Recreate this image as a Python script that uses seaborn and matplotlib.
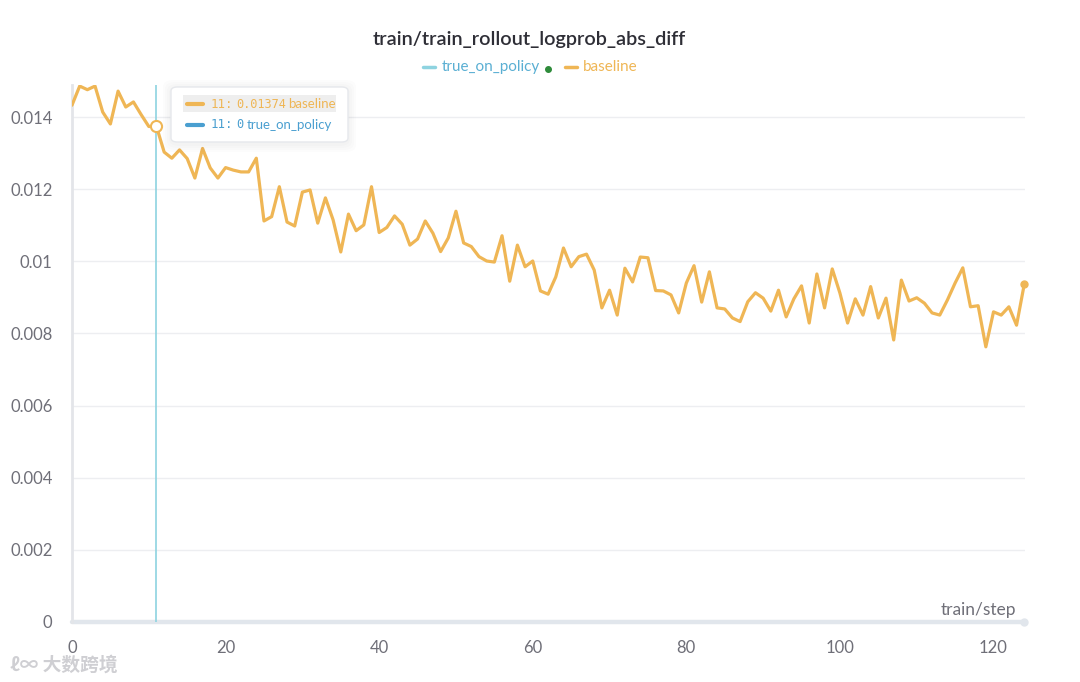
import numpy as np
import pandas as pd
import matplotlib.pyplot as plt
from matplotlib.patches import FancyBboxPatch
import seaborn as sns

# values
steps = list(range(125))
baseline = [
    0.01433, 0.01486, 0.01476, 0.01486, 0.01414, 0.01381, 0.01472, 0.01428, 0.01442, 0.01407,
    0.01374, 0.01374, 0.01303, 0.01286, 0.01309, 0.01285, 0.01231, 0.01313, 0.01259, 0.01231,
    0.01260, 0.01253, 0.01248, 0.01248, 0.01286, 0.01112, 0.01124, 0.01207, 0.01109, 0.01098,
    0.01192, 0.01198, 0.01106, 0.01176, 0.01115, 0.01026, 0.01131, 0.01085, 0.01101, 0.01207,
    0.01080, 0.01094, 0.01126, 0.01103, 0.01045, 0.01062, 0.01112, 0.01078, 0.01027, 0.01065,
    0.01139, 0.01051, 0.01041, 0.01013, 0.01001, 0.00998, 0.01071, 0.00945, 0.01045, 0.00985,
    0.01001, 0.00918, 0.00909, 0.00957, 0.01037, 0.00985, 0.01013, 0.01020, 0.00976, 0.00871,
    0.00920, 0.00851, 0.00981, 0.00943, 0.01012, 0.01010, 0.00919, 0.00918, 0.00907, 0.00857,
    0.00940, 0.00988, 0.00887, 0.00971, 0.00871, 0.00868, 0.00843, 0.00833, 0.00888, 0.00913,
    0.00898, 0.00862, 0.00920, 0.00846, 0.00896, 0.00932, 0.00829, 0.00965, 0.00871, 0.00979,
    0.00912, 0.00829, 0.00896, 0.00851, 0.00930, 0.00843, 0.00898, 0.00782, 0.00948, 0.00890,
    0.00899, 0.00884, 0.00857, 0.00851, 0.00893, 0.00940, 0.00982, 0.00874, 0.00877, 0.00763,
    0.00860, 0.00851, 0.00874, 0.00823, 0.00936,
]
true_on_policy = [0.0] * 125

yticks = [0, 0.002, 0.004, 0.006, 0.008, 0.010, 0.012, 0.014]
ytick_labels = ["0", "0.002", "0.004", "0.006", "0.008", "0.01", "0.012", "0.014"]
xticks = [0, 20, 40, 60, 80, 100, 120]

hover_step = 11
hover_value = 0.01374

ORANGE = "#EFB655"
BLUE_TXT = "#5AAFD3"
CURSOR = "#8ED3E0"
FADED = "#E1E6EC"
TICK = "#6F6F78"

df = pd.DataFrame({"step": steps, "baseline": baseline, "true_on_policy": true_on_policy})

sns.set_theme(style="white")
plt.rcParams["font.family"] = ["Lato", "DejaVu Sans"]

fig = plt.figure(figsize=(10.8, 6.82), dpi=100)
ax = fig.add_axes([72 / 1080, 1 - 622 / 682, (1025 - 72) / 1080, (622 - 85) / 682])

ax.set_xlim(0, 124.1)
ax.set_ylim(0, 0.01489)

# grid lines
for y in yticks[1:]:
    ax.axhline(y, color="#EDEEF1", lw=1, zorder=0)

# faded series at zero
sns.lineplot(data=df, x="step", y="true_on_policy", ax=ax, color=FADED, lw=3.2,
             zorder=2, legend=False, clip_on=False)
ax.plot(steps[-1], true_on_policy[-1], "o", color=FADED, ms=5, clip_on=False, zorder=2)

sns.lineplot(data=df, x="step", y="baseline", ax=ax, color=ORANGE, lw=2.3,
             zorder=3, legend=False)
ax.plot(steps[-1], baseline[-1], "o", color=ORANGE, ms=5, clip_on=False, zorder=4)

# hover cursor
ax.axvline(hover_step, color=CURSOR, lw=1.2, zorder=2)
ax.plot(hover_step, hover_value, "o", ms=8, mfc="white", mec=ORANGE, mew=1.5, zorder=5)

for s in ["top", "right", "bottom"]:
    ax.spines[s].set_visible(False)
ax.spines["left"].set_color("#E3E5E9")
ax.spines["left"].set_linewidth(2)

ax.set_yticks(yticks)
ax.set_yticklabels(ytick_labels)
ax.set_xticks(xticks)
ax.tick_params(axis="y", length=0, pad=14, labelsize=12, labelcolor=TICK)
ax.tick_params(axis="x", direction="inout", length=14, width=1, color="#EDEEF1",
               pad=6, labelsize=12, labelcolor=TICK)
ax.set_xlabel("")
ax.set_ylabel("")

fig.text(1016 / 1080, 1 - 610 / 682, "train/step", ha="right", va="center",
         fontsize=12.5, color=TICK)

# title and legend
fig.text(529 / 1080, 1 - 40 / 682, "train/train_rollout_logprob_abs_diff", ha="center",
         va="center", fontsize=14.3, fontweight="semibold", color="#2E2E36")
fig.lines.append(plt.Line2D([423 / 1080, 435 / 1080], [1 - 67 / 682] * 2,
                            transform=fig.transFigure, color=CURSOR, lw=2.5))
fig.text(442 / 1080, 1 - 67 / 682, "true_on_policy", ha="left", va="center",
         fontsize=11, color=BLUE_TXT)
fig.lines.append(plt.Line2D([548 / 1080], [1 - 69 / 682], transform=fig.transFigure,
                            marker="o", ms=4, color="#2E8B3A", lw=0))
fig.lines.append(plt.Line2D([565 / 1080, 577 / 1080], [1 - 67 / 682] * 2,
                            transform=fig.transFigure, color=ORANGE, lw=2.5))
fig.text(583 / 1080, 1 - 67 / 682, "baseline", ha="left", va="center",
         fontsize=11, color=ORANGE)

# tooltip with a soft shadow
for i in range(4):
    sh = FancyBboxPatch(((171 - 2 - 2 * i) / 1080, 1 - (146 + 2 * i) / 682),
                        (181 + 4 * i) / 1080, (60 + 4 * i) / 682,
                        boxstyle="round,pad=0,rounding_size=0.01",
                        transform=fig.transFigure, fc="black", ec="none", alpha=0.012, zorder=9)
    fig.patches.append(sh)
box = FancyBboxPatch((171 / 1080, 1 - 142 / 682), 177 / 1080, 55 / 682,
                     boxstyle="round,pad=0,rounding_size=0.006",
                     transform=fig.transFigure, fc="white", ec="#E6E8EC", lw=1, zorder=10)
fig.patches.append(box)
hl = FancyBboxPatch((183 / 1080, 1 - 112 / 682), 153 / 1080, 17 / 682,
                    boxstyle="square,pad=0", transform=fig.transFigure,
                    fc="#EEEEEE", ec="none", zorder=11)
fig.patches.append(hl)
for yy, col, num, namex, name in [(104, ORANGE, "0.01374", 288, "baseline"),
                                  (125, "#4A9FD0", "0", 247, "true_on_policy")]:
    fig.lines.append(plt.Line2D([187 / 1080, 203 / 1080], [1 - yy / 682] * 2,
                                transform=fig.transFigure, color=col, lw=3, zorder=12))
    fig.text(211 / 1080, 1 - yy / 682, "11:", ha="left", va="center",
             fontsize=9, color=col, family="DejaVu Sans Mono", zorder=12)
    fig.text(236 / 1080, 1 - yy / 682, num, ha="left", va="center",
             fontsize=8.6, color=col, family="DejaVu Sans Mono", zorder=12)
    fig.text(namex / 1080, 1 - yy / 682, name, ha="left", va="center",
             fontsize=9.5, color=col, zorder=12)

# watermark
fig.text(10 / 1080, 1 - 665 / 682, "ℓ∞ 大数跨境", ha="left", va="center", fontsize=13.5,
         color="#CFCFD3", family=["Noto Sans CJK SC", "DejaVu Sans"], fontweight="bold")

fig.savefig("out.png", dpi=100)
